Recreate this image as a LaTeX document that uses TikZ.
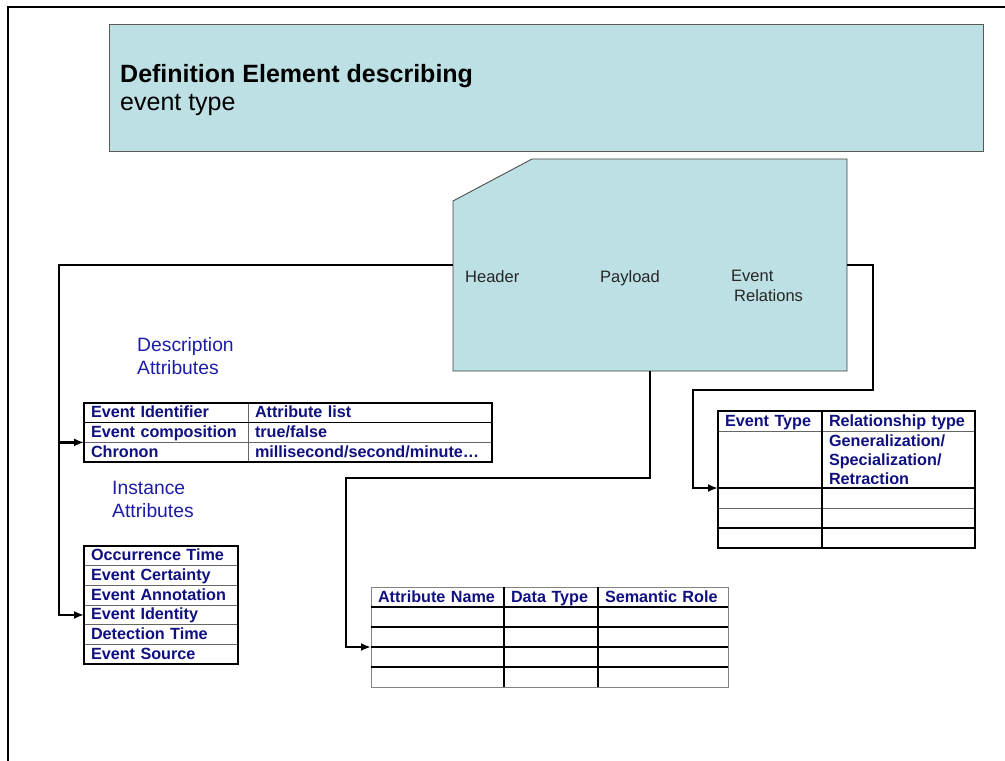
\documentclass[tikz,border=0pt]{standalone}
\usepackage{fontspec}
\setmainfont{Liberation Sans}
\usetikzlibrary{positioning,arrows.meta}

\definecolor{slideteal}{RGB}{188,224,228}
\definecolor{tabnavy}{RGB}{16,16,128}
\definecolor{labblue}{RGB}{28,28,168}
\definecolor{rulegray}{RGB}{130,130,130}

\begin{document}
\begin{tikzpicture}[
    x=1pt,y=-1pt,
    link/.style={line width=2.4pt,-{Latex[length=10pt,width=8pt]}},
    cell/.style={rectangle,draw=black!60,line width=1pt,text width=#1,minimum height=19.7,
        text height=13pt,text depth=3pt,
        inner xsep=7,inner ysep=0,outer sep=0,anchor=north west,align=left,
        text=tabnavy,font=\fontsize{16.2}{19}\selectfont\bfseries},
    tabframe/.style={line width=2pt},
    shapelabel/.style={anchor=base west,align=left,inner sep=0,text=black!85,font=\fontsize{16.5}{19.5}\selectfont},
    grouplabel/.style={anchor=base west,align=left,inner sep=0,text=labblue,font=\fontsize{19.3}{22.5}\selectfont}
]
\useasboundingbox (0,0) rectangle (1005,761);

% slide frame
\draw[line width=2.6pt] (8,770) -- (8,7) -- (1012,7);

% title
\node[rectangle,draw=black!65,line width=1.2pt,fill=slideteal,minimum width=874,minimum height=127,
    inner sep=0,anchor=north west] (defbox) at (109,24) {};
\node[anchor=base west,align=left,inner sep=0,font=\fontsize{25}{28}\selectfont] (deftitle) at (120,110)
    {\textbf{Definition Element describing}\\event type};

% event type shape
\node[rectangle,minimum width=394,minimum height=212,inner sep=0,outer sep=0] (evt) at (650,265) {};
\filldraw[fill=slideteal,draw=black!75,line width=0.8pt] ([yshift=-42pt]evt.north west) -- ([xshift=79pt]evt.north west)
    -- (evt.north east) -- (evt.south east) -- (evt.south west) -- cycle;
\node[shapelabel] (header) at (465,282) {Header};
\node[shapelabel] (payload) at (600,282) {Payload};
\node[shapelabel] (evrel) at (731,301) {Event\\\hspace*{3pt}Relations};

% description attributes
\node[grouplabel] (desclabel) at (137,374) {Description\\Attributes};
\node[cell=150pt] (descA1) at (84,403) {Event Identifier};
\node[cell=230pt,right=0pt of descA1] (descB1) {Attribute list};
\node[cell=150pt,below=0pt of descA1] (descA2) {Event composition};
\node[cell=230pt,right=0pt of descA2] (descB2) {true/false};
\node[cell=150pt,below=0pt of descA2] (descA3) {Chronon};
\node[cell=230pt,right=0pt of descA3] (descB3) {millisecond/second/minute\ldots};
\draw[line width=1.5pt] (descA1.south west) -- (descB1.south east);
\draw[tabframe] (descA1.north west) rectangle (descB3.south east);

% instance attributes
\node[grouplabel] (instlabel) at (112,517) {Instance\\Attributes};
\node[cell=140pt] (occtime) at (84,546) {Occurrence Time};
\node[cell=140pt,below=0pt of occtime] (certainty) {Event Certainty};
\node[cell=140pt,below=0pt of certainty] (annotation) {Event Annotation};
\node[cell=140pt,below=0pt of annotation] (identity) {Event Identity};
\node[cell=140pt,below=0pt of identity] (detection) {Detection Time};
\node[cell=140pt,below=0pt of detection] (source) {Event Source};
\draw[tabframe] (occtime.north west) rectangle (source.south east);

% payload attributes
\node[cell=119pt,draw=rulegray,minimum height=20] (attrN0) at (371,587) {Attribute Name};
\node[cell=80pt,draw=rulegray,minimum height=20,right=0pt of attrN0] (attrT0) {Data Type};
\node[cell=116pt,draw=rulegray,minimum height=20,right=0pt of attrT0] (attrR0) {Semantic Role};
\foreach \r [count=\p from 0] in {1,...,4} {
    \node[cell=119pt,draw=rulegray,minimum height=20,below=0pt of attrN\p] (attrN\r) {};
    \node[cell=80pt,draw=rulegray,minimum height=20,right=0pt of attrN\r] (attrT\r) {};
    \node[cell=116pt,draw=rulegray,minimum height=20,right=0pt of attrT\r] (attrR\r) {};
}
\foreach \r in {0,...,3}
    \draw[tabframe] (attrN\r.south west) -- (attrR\r.south east);
\draw[tabframe] (attrT0.north west) -- (attrT4.south west);
\draw[tabframe] (attrR0.north west) -- (attrR4.south west);

% event relations
\node[cell=90pt,minimum height=20] (relT0) at (718,411) {Event Type};
\node[cell=139pt,minimum height=20,right=0pt of relT0] (relR0) {Relationship type};
\node[cell=90pt,minimum height=57,below=0pt of relT0] (relT1) {};
\node[cell=139pt,minimum height=57,text height=,text depth=,right=0pt of relT1] (relR1)
    {Generalization/\\Specialization/\\Retraction};
\foreach \r [count=\p from 1] in {2,...,4} {
    \node[cell=90pt,minimum height=20,below=0pt of relT\p] (relT\r) {};
    \node[cell=139pt,minimum height=20,right=0pt of relT\r] (relR\r) {};
}
\draw[tabframe] (relT1.south west) -- (relR1.south east);
\draw[tabframe] (relT3.south west) -- (relR3.south east);
\draw[tabframe] (relR0.north west) -- (relR4.south west);
\draw[tabframe] (relT0.north west) rectangle (relR4.south east);

% connectors
\coordinate (railL) at (59,265);
\coordinate (railR) at (873,390);
\coordinate (railR2) at (693,390);
\coordinate (railP) at (346,478);
\draw[link] (evt.west) -- (railL) |- (identity.west);
\draw[link] (railL) |- (descA2.south west);
\draw[link] (evt.east) -| (railR) -- (railR2) |- (relT1.south west);
\draw[link] (evt.south) |- (railP) |- (attrN2.south west);
\end{tikzpicture}
\end{document}
